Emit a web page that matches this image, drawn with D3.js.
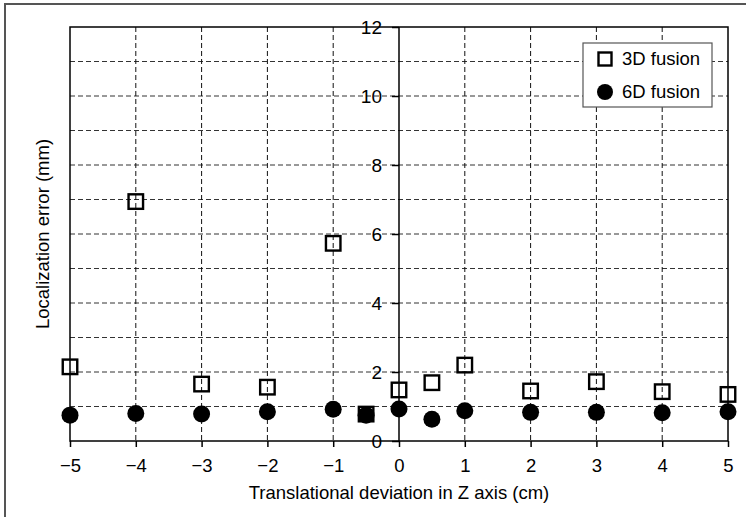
<!DOCTYPE html>
<html>
<head>
<meta charset="utf-8">
<script src="https://cdn.jsdelivr.net/npm/d3@7"></script>
<style>
  body { margin: 0; background: #fff; }
  text { font-family: "Liberation Sans", Arial, sans-serif; }
</style>
</head>
<body>
<div id="chart"></div>
<script>
// data
const deviations = [-5, -4, -3, -2, -1, -0.5, 0, 0.5, 1, 2, 3, 4, 5];
const fusion3D = [2.15, 6.94, 1.65, 1.56, 5.73, 0.78, 1.48, 1.69, 2.2, 1.45, 1.72, 1.43, 1.35];
const fusion6D = [0.75, 0.8, 0.78, 0.85, 0.92, 0.75, 0.93, 0.63, 0.88, 0.83, 0.83, 0.82, 0.85];
const xTicks = [-5, -4, -3, -2, -1, 0, 1, 2, 3, 4, 5];
const yTicks = [0, 2, 4, 6, 8, 10, 12];
const yGrid = d3.range(1, 12);
const seriesNames = ['3D fusion', '6D fusion'];

const W = 746, H = 517;
const margin = {top: 27, right: 18, bottom: 76, left: 70};
const width = W - margin.left - margin.right;
const height = H - margin.top - margin.bottom;
const font = '"Liberation Sans", Arial, sans-serif';

const svg = d3.select('#chart').append('svg')
    .attr('width', W)
    .attr('height', H);

// outer frame (cropped on right/bottom)
svg.append('rect')
    .attr('x', 5).attr('y', 4)
    .attr('width', W + 10).attr('height', H + 10)
    .attr('fill', 'none')
    .attr('stroke', '#555')
    .attr('stroke-width', 2);

const chart = svg.append('g')
    .attr('transform', `translate(${margin.left}, ${margin.top})`);

const x = d3.scaleLinear().domain([-5, 5]).range([0, width]);
const y = d3.scaleLinear().domain([0, 12]).range([height, 0]);

// grid lines
chart.append('g').selectAll('line')
    .data(yGrid)
    .enter().append('line')
    .attr('x1', 0).attr('x2', width)
    .attr('y1', d => y(d)).attr('y2', d => y(d))
    .attr('stroke', '#333')
    .attr('stroke-width', 1)
    .attr('stroke-dasharray', '5,3');

chart.append('g').selectAll('line')
    .data(xTicks.filter(d => d !== -5 && d !== 5 && d !== 0))
    .enter().append('line')
    .attr('x1', d => x(d)).attr('x2', d => x(d))
    .attr('y1', 0).attr('y2', height)
    .attr('stroke', '#111')
    .attr('stroke-width', 1)
    .attr('stroke-dasharray', '5,3');

// plot frame
chart.append('rect')
    .attr('x', 0).attr('y', 0)
    .attr('width', width).attr('height', height)
    .attr('fill', 'none')
    .attr('stroke', '#000')
    .attr('stroke-width', 1.5);

// x axis
const xAxis = d3.axisBottom(x)
    .tickValues(xTicks)
    .tickSize(6)
    .tickPadding(12)
    .tickFormat(d => d < 0 ? '\u2212' + Math.abs(d) : d);
const xAxisGroup = chart.append('g')
    .attr('transform', `translate(0, ${height})`)
    .call(xAxis);
xAxisGroup.attr('font-size', null).attr('font-family', null);
xAxisGroup.select('.domain').remove();
xAxisGroup.selectAll('line').attr('stroke', '#000').attr('stroke-width', 1.5);
xAxisGroup.selectAll('text')
    .style('font-size', '18.5px')
    .style('font-family', font)
    .attr('fill', '#000');

// y axis at x = 0
const yAxis = d3.axisLeft(y)
    .tickValues(yTicks)
    .tickSize(7)
    .tickPadding(10);
const yAxisGroup = chart.append('g')
    .attr('transform', `translate(${x(0)}, 0)`)
    .call(yAxis);
yAxisGroup.attr('font-size', null).attr('font-family', null);
yAxisGroup.select('.domain')
    .attr('d', `M0,0V${height}`)
    .attr('stroke', '#000')
    .attr('stroke-width', 1.5);
yAxisGroup.selectAll('line').attr('stroke', '#000').attr('stroke-width', 1.5);
yAxisGroup.selectAll('text')
    .style('font-size', '19px')
    .style('font-family', font)
    .attr('fill', '#000');

// axis titles
svg.append('text')
    .attr('x', margin.left + x(0))
    .attr('y', 499)
    .attr('text-anchor', 'middle')
    .style('font-size', '18.5px')
    .text('Translational deviation in Z axis (cm)');

svg.append('text')
    .attr('transform', `translate(49, ${margin.top + height / 2}) rotate(-90)`)
    .attr('text-anchor', 'middle')
    .style('font-size', '18.5px')
    .text('Localization error (mm)');

// markers
const sq = 14.5;
const pts3 = deviations.map((d, i) => ({x: d, v: fusion3D[i]}));
const pts6 = deviations.map((d, i) => ({x: d, v: fusion6D[i]}));

chart.selectAll('.sq')
    .data(pts3)
    .enter().append('rect')
    .attr('class', 'sq')
    .attr('x', d => x(d.x) - sq / 2)
    .attr('y', d => y(d.v) - sq / 2)
    .attr('width', sq).attr('height', sq)
    .attr('fill', 'none')
    .attr('stroke', '#000')
    .attr('stroke-width', 2.4);

chart.selectAll('.dot')
    .data(pts6)
    .enter().append('circle')
    .attr('class', 'dot')
    .attr('cx', d => x(d.x))
    .attr('cy', d => y(d.v))
    .attr('r', 8.5)
    .attr('fill', '#000');

// legend
const legend = svg.append('g').attr('transform', 'translate(583, 43)');
legend.append('rect')
    .attr('width', 129).attr('height', 64)
    .attr('fill', '#fff')
    .attr('stroke', '#555')
    .attr('stroke-width', 1.2);
legend.append('rect')
    .attr('x', 22 - 6.5).attr('y', 16 - 6.5)
    .attr('width', 13).attr('height', 13)
    .attr('fill', 'none')
    .attr('stroke', '#000')
    .attr('stroke-width', 2.4);
legend.append('circle')
    .attr('cx', 22).attr('cy', 49)
    .attr('r', 8)
    .attr('fill', '#000');
legend.selectAll('.lt')
    .data(seriesNames)
    .enter().append('text')
    .attr('x', 39)
    .attr('y', (d, i) => 16 + i * 33)
    .attr('dy', '0.35em')
    .style('font-size', '18.5px')
    .text(d => d);
</script>
</body>
</html>
